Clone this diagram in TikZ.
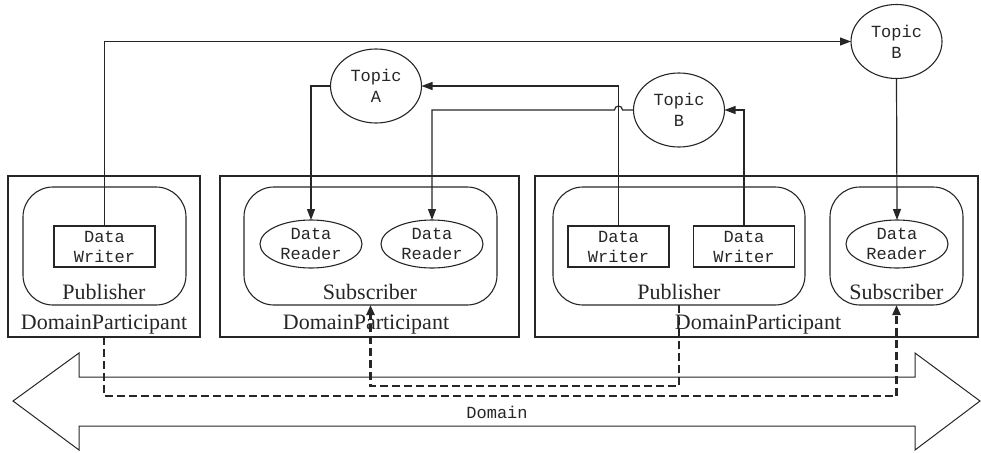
\documentclass[tikz,border=0pt]{standalone}
\usepackage{fontspec}
\setmainfont{Liberation Serif}
\setmonofont{Liberation Mono}
\usetikzlibrary{arrows.meta,calc,shapes.geometric}
\definecolor{ink}{HTML}{262626}
\begin{document}
\begin{tikzpicture}[x=1pt,y=-1pt,
  every node/.style={inner sep=0pt,outer sep=0pt,text=ink},
  conn/.style={draw=ink,line width=1.2pt},
  tip/.style={-{Triangle[length=11pt,width=8pt]}},
  dashline/.style={draw=ink,line width=2.3pt,dash pattern=on 8pt off 4pt},
  dtip/.style={-{Triangle[length=10pt,width=8pt]}},
  partbox/.style={draw=ink,line width=1.1pt,rectangle,minimum height=161pt},
  roundbox/.style={draw=ink,line width=1.1pt,rectangle,rounded corners=30pt,minimum height=118pt},
  writer/.style={draw=ink,line width=1.1pt,rectangle,minimum width=101pt,minimum height=41pt,align=center,font=\ttfamily\fontsize{17}{20}\selectfont},
  reader/.style={draw=ink,line width=1.1pt,ellipse,minimum width=102pt,minimum height=48pt,align=center,font=\ttfamily\fontsize{17}{20}\selectfont},
  topic/.style={draw=ink,line width=1.1pt,ellipse,minimum width=91pt,minimum height=74pt,align=center,font=\ttfamily\fontsize{17}{21}\selectfont},
  serif/.style={font=\fontsize{22}{24}\selectfont},
  mono/.style={font=\ttfamily\fontsize{17}{20}\selectfont}]
\useasboundingbox (0,0) rectangle (981,452);

% Domain double arrow
\draw[ink,line width=1pt,line join=miter] (13,401) -- (79,353) -- (79,377) -- (915,377) -- (915,353) -- (980,401) -- (915,450) -- (915,426) -- (79,426) -- (79,450) -- cycle;
\node[mono] (domain) at (497,412) {Domain};

% DomainParticipant boxes
\node[partbox,minimum width=192pt] (dp1) at (104,256.5) {};
\node[partbox,minimum width=299pt] (dp2) at (369.5,256.5) {};
\node[partbox,minimum width=443pt] (dp3) at (756.5,256.5) {};
\node[serif] (dplbl1) at (104,325) {DomainParticipant};
\node[serif] (dplbl2) at (366,325) {DomainParticipant};
\node[serif] (dplbl3) at (758,325) {DomainParticipant};

% Publishers / Subscribers
\node[roundbox,minimum width=163pt] (pub1) at (104.5,246) {};
\node[roundbox,minimum width=253pt] (sub1) at (370.5,246) {};
\node[roundbox,minimum width=252pt] (pub2) at (679,246) {};
\node[roundbox,minimum width=133pt] (sub2) at (896.5,246) {};
\node[serif] (publbl1) at (104,292) {Publisher};
\node[serif] (sublbl1) at (370,292) {Subscriber};
\node[serif] (publbl2) at (679,292) {Publisher};
\node[serif] (sublbl2) at (896.5,292) {Subscriber};

% Writers and readers
\node[writer] (dw1) at (104.5,246.5) {Data\\Writer};
\node[writer] (dw2) at (618.5,246.5) {Data\\Writer};
\node[writer] (dw3) at (744,246.5) {Data\\Writer};
\node[reader] (dr1) at (311,244) {Data\\Reader};
\node[reader] (dr2) at (432,244) {Data\\Reader};
\node[reader] (dr3) at (897,244) {Data\\Reader};

% Topics
\node[topic] (topA) at (376,86) {Topic\\A};
\node[topic] (topBm) at (679,110) {Topic\\B};
\node[topic] (topBt) at (896.5,41.5) {Topic\\B};

% Solid connectors
\draw[conn,tip] (dw1.north) |- (topBt.west);
\draw[conn,tip] (topBt.south) -- (dr3.north);
\draw[conn,tip] (dw2.north) |- (topA.east);
\draw[conn,tip] (topA.west) -| (dr1.north);
\draw[conn,tip] (dw3.north) |- (topBm.east);
\coordinate (jmp) at (dw2.north |- topBm.west);
\draw[conn,tip] (topBm.west) -- ($(jmp)+(4,0)$) arc[start angle=0,end angle=180,radius=4pt] -- (dr2.north |- topBm.west) -- (dr2.north);

% Dashed connectors
\coordinate (busA) at (0,396);
\coordinate (busB) at (0,386);
\draw[dashline,dtip] (dp1.south) -- (dp1.south |- busA) -| (sub2.south);
\draw[dashline,dtip] (pub2.south) -- (pub2.south |- busB) -| (sub1.south);
\end{tikzpicture}
\end{document}
